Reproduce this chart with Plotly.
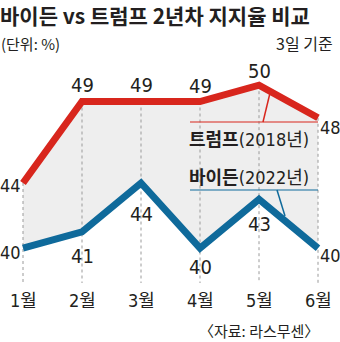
import plotly.graph_objects as go

months = ["1월", "2월", "3월", "4월", "5월", "6월"]
trump = [44, 49, 49, 49, 50, 48]
biden = [40, 41, 44, 40, 43, 40]

title = "바이든 vs 트럼프 2년차 지지율 비교"
unit = "(단위: %)"
basis = "3일 기준"
source = "〈자료: 라스무센〉"
trump_name, trump_year = "트럼프", "(2018년)"
biden_name, biden_year = "바이든", "(2022년)"

W, H = 340, 342
RED = "#d8261d"
BLUE = "#0f6a9b"
FILL = "#eeeeee"
TXT = "#231f20"
NUM_FONT = "Liberation Sans Narrow, DejaVu Sans Condensed, Liberation Sans, Noto Sans CJK KR"
KR_FONT = "Noto Sans CJK KR"

x = list(range(len(months)))

# axis ranges chosen so that 1 unit = 16.3px, 44 -> y=183px, month 0 -> x=23px, spacing 59px
px_per_unit = 16.3
ymax = 44 + 183 / px_per_unit
ymin = ymax - H / px_per_unit
xmin = -23 / 59
xmax = xmin + W / 59
bottom_val = ymax - 283 / px_per_unit
month_val = ymax - 300 / px_per_unit

fig = go.Figure()
# invisible base for fill
fig.add_trace(go.Scatter(x=x, y=biden, mode="lines", line=dict(width=0, color=FILL),
                         hoverinfo="skip", showlegend=False))
fig.add_trace(go.Scatter(x=x, y=trump, mode="lines", line=dict(width=0, color=FILL),
                         fill="tonexty", fillcolor=FILL, hoverinfo="skip", showlegend=False))
# dotted vertical guides
gx, gy = [], []
for i, v in zip(x, trump):
    gx += [i, i, None]
    gy += [v, bottom_val, None]
fig.add_trace(go.Scatter(x=gx, y=gy, mode="lines", line=dict(width=1, color="#9a9a9a", dash="dot"),
                         hoverinfo="skip", showlegend=False))
fig.add_trace(go.Scatter(x=x, y=trump, mode="lines", line=dict(width=7, color=RED),
                         showlegend=False))
fig.add_trace(go.Scatter(x=x, y=biden, mode="lines", line=dict(width=7, color=BLUE),
                         showlegend=False))

# value labels (offsets in px, font size)
trump_off = [(-13, -2, 18), (0, 17, 20), (0, 17, 20), (0, 16, 20), (0, 14, 20), (12, -10, 18)]
biden_off = [(-13, -4, 18), (0, -24, 20), (0, -31, 20), (0, -19, 20), (0, -25, 20), (12, -7, 18)]
for i, v in enumerate(trump):
    dx, dy, fs = trump_off[i]
    fig.add_annotation(x=i, y=v, text=str(v), showarrow=False, xshift=dx, yshift=dy,
                       font=dict(family=NUM_FONT, size=fs, color=TXT))
for i, v in enumerate(biden):
    dx, dy, fs = biden_off[i]
    fig.add_annotation(x=i, y=v, text=str(v), showarrow=False, xshift=dx, yshift=dy,
                       font=dict(family=NUM_FONT, size=fs, color=TXT))
# month labels
for i, m in enumerate(months):
    fig.add_annotation(x=i, y=month_val, text=m, showarrow=False,
                       font=dict(family=NUM_FONT, size=18, color=TXT))

def px(xp, yp):
    return xp / W, 1 - yp / H

def ann(xp, yp, text, size, anchor="left", family=KR_FONT, color=TXT):
    ax, ay = px(xp, yp)
    fig.add_annotation(x=ax, y=ay, xref="paper", yref="paper", text=text, showarrow=False,
                       xanchor=anchor, yanchor="middle", borderpad=0,
                       font=dict(family=family, size=size, color=color))

ann(-1, 15, "<b>" + title + "</b>", 21)
ann(0, 43, unit, 15)
ann(334, 43, basis, 16, anchor="right")
ann(320, 330, source, 15, anchor="right")
ann(188, 138, "<b>" + trump_name + "</b><span style='font-family:" + NUM_FONT + ";font-size:18px'>" + trump_year + "</span>", 18)
ann(188, 176, "<b>" + biden_name + "</b><span style='font-family:" + NUM_FONT + ";font-size:18px'>" + biden_year + "</span>", 18)

def seg(x0, y0, x1, y1, color, w=1):
    a0, b0 = px(x0, y0)
    a1, b1 = px(x1, y1)
    fig.add_shape(type="line", xref="paper", yref="paper", x0=a0, y0=b0, x1=a1, y1=b1,
                  line=dict(color=color, width=w))

seg(190, 122, 318, 122, RED)
seg(263, 122, 270, 93, RED, 1.5)
seg(190, 190, 318, 190, BLUE)
seg(277, 190, 285, 216, BLUE, 1.5)

fig.update_layout(width=W, height=H, margin=dict(l=0, r=0, t=0, b=0),
                  paper_bgcolor="white", plot_bgcolor="white",
                  xaxis=dict(range=[xmin, xmax], visible=False, fixedrange=True),
                  yaxis=dict(range=[ymin, ymax], visible=False, fixedrange=True))
fig.write_html("out.html", config={"displayModeBar": False})
